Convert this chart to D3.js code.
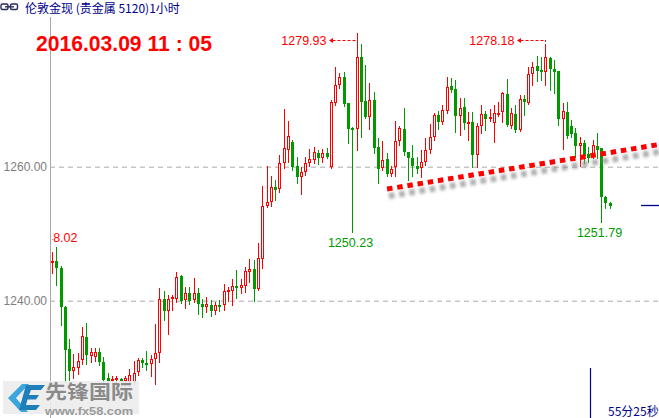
<!DOCTYPE html>
<html><head><meta charset="utf-8">
<script src="https://cdn.jsdelivr.net/npm/d3@7"></script>
<style>html,body{margin:0;padding:0;background:#fff;overflow:hidden}</style>
</head><body>
<svg id="c" width="659" height="418" style="display:block"></svg>
<script>
// ---- data (price, 1-hour candles) ----
const open = [
 1245.63,1245.93,1244.88,1239.06,1232.79,1229.51,1229.96,1231.15,1234.58,1231.79,
 1231.64,1232.34,1230.85,1228.51,1228.16,1228.16,1228.31,1228.01,1227.87,1227.91,
 1229.31,1231.15,1230.75,1230.51,1231.25,1232.15,1240.21,1238.36,1240.25,1240.36,
 1243.69,1240.00,1241.10,1240.10,1241.10,1239.46,1238.96,1239.31,1238.46,1239.31,
 1239.31,1241.40,1241.49,1242.19,1241.85,1242.24,1244.33,1244.69,1241.75,1246.33,
 1254.18,1254.78,1257.01,1256.67,1260.51,1262.60,1263.69,1260.10,1258.51,1259.16,
 1260.51,1261.00,1262.00,1261.25,1262.00,1260.00,1269.55,1272.19,1273.43,1269.55,
 1265.82,1265.63,1276.42,1269.81,1267.37,1269.96,1262.98,1259.76,1261.15,1258.91,
 1260.00,1263.73,1265.58,1262.15,1261.25,1260.15,1259.76,1260.75,1262.39,1264.39,
 1267.72,1266.72,1268.36,1272.04,1271.55,1267.57,1268.87,1266.48,1266.67,1261.75,
 1266.07,1267.87,1267.07,1266.48,1267.87,1268.06,1270.85,1266.07,1267.87,1265.48,
 1270.06,1269.55,1273.84,1275.07,1274.43,1274.09,1276.18,1274.58,1274.28,1267.12,
 1268.21,1266.07,1265.07,1263.09,1263.49,1261.90,1261.40,1263.09,1262.75,1255.43,1254.63];
const high = [
 1247.27,1248.02,1245.18,1239.21,1234.28,1232.04,1232.19,1236.12,1236.67,1232.98,
 1232.98,1232.98,1231.64,1229.21,1228.76,1228.76,1228.46,1228.76,1229.81,1231.00,
 1231.49,1231.40,1232.49,1231.90,1236.48,1241.85,1241.49,1240.85,1240.85,1244.28,
 1243.84,1242.00,1242.00,1243.34,1241.94,1240.21,1240.60,1240.10,1239.85,1240.10,
 1242.49,1242.00,1243.28,1244.58,1243.24,1245.07,1246.18,1246.07,1248.61,1257.16,
 1260.15,1258.61,1258.01,1261.75,1268.57,1266.82,1263.98,1261.49,1260.00,1261.40,
 1262.64,1262.90,1262.49,1262.64,1262.75,1269.96,1274.93,1273.94,1274.18,1269.55,
 1265.93,1279.93,1278.31,1275.18,1272.45,1271.19,1264.24,1263.88,1262.00,1260.10,
 1266.87,1266.07,1268.72,1262.19,1263.24,1261.49,1262.49,1264.24,1266.33,1267.97,
 1268.31,1269.21,1273.43,1273.19,1272.94,1270.21,1270.21,1268.16,1268.21,1266.48,
 1269.21,1268.36,1268.61,1269.21,1269.70,1271.19,1273.04,1268.76,1269.21,1270.70,
 1270.70,1274.84,1275.67,1276.52,1276.33,1278.18,1276.42,1275.93,1274.28,1269.46,
 1269.70,1266.97,1265.73,1264.48,1263.98,1262.98,1263.98,1264.98,1262.75,1255.63,1254.78];
const low = [
 1244.13,1242.34,1236.37,1227.91,1228.16,1228.46,1229.06,1230.55,1230.55,1230.90,
 1231.00,1230.40,1227.87,1227.42,1227.42,1227.27,1226.97,1227.27,1227.27,1227.57,
 1228.91,1230.15,1229.66,1228.81,1227.52,1230.90,1237.12,1234.98,1238.61,1239.85,
 1239.70,1238.87,1239.51,1239.85,1237.97,1237.61,1238.27,1237.76,1237.97,1238.46,
 1238.61,1240.00,1239.36,1240.36,1241.19,1241.34,1242.84,1240.00,1241.60,1244.84,
 1253.99,1254.18,1255.03,1256.18,1259.76,1260.75,1259.51,1257.61,1255.88,1258.76,
 1260.10,1260.55,1260.36,1260.66,1261.30,1259.76,1269.21,1271.75,1269.06,1263.58,
 1250.23,1262.49,1264.48,1267.22,1265.63,1262.04,1257.52,1259.51,1258.61,1258.61,
 1258.66,1263.24,1261.75,1258.01,1258.61,1259.01,1258.51,1260.25,1262.04,1263.98,
 1265.63,1266.37,1268.01,1271.15,1265.22,1264.73,1265.63,1263.98,1260.00,1260.00,
 1264.98,1265.48,1266.82,1263.64,1267.57,1266.72,1266.07,1265.78,1265.18,1265.33,
 1267.72,1269.36,1272.19,1272.84,1272.94,1272.19,1271.45,1271.04,1266.22,1262.60,
 1264.28,1264.43,1261.49,1260.10,1260.60,1260.75,1261.25,1261.30,1251.79,1253.84,1253.88];
const close = [
 1245.93,1244.88,1239.01,1232.64,1229.55,1230.15,1231.00,1234.73,1231.90,1232.34,
 1232.34,1230.90,1228.16,1228.01,1228.31,1228.46,1228.01,1228.46,1228.91,1229.25,
 1231.15,1230.66,1230.51,1231.25,1232.15,1240.21,1238.36,1240.21,1240.60,1243.58,
 1239.96,1241.10,1239.85,1241.10,1239.46,1238.96,1239.46,1238.46,1239.31,1239.10,
 1241.45,1241.64,1242.19,1241.85,1242.34,1244.48,1244.73,1241.75,1246.33,1254.18,
 1254.78,1257.01,1256.52,1260.51,1262.75,1264.63,1259.91,1258.51,1259.25,1260.51,
 1261.15,1262.15,1261.19,1262.00,1261.34,1269.70,1272.19,1273.43,1269.46,1265.63,
 1265.58,1276.33,1269.70,1267.46,1269.96,1262.75,1259.76,1261.00,1258.91,1259.61,
 1263.88,1265.73,1262.09,1261.25,1260.00,1259.76,1260.66,1262.49,1264.39,1267.72,
 1266.72,1268.46,1271.94,1271.45,1267.57,1268.72,1266.48,1266.72,1261.75,1266.07,
 1267.87,1267.07,1267.37,1267.97,1268.06,1270.96,1266.22,1267.97,1265.48,1270.06,
 1269.55,1273.84,1274.93,1274.33,1274.09,1276.33,1274.54,1274.18,1267.07,1268.31,
 1264.63,1264.88,1263.09,1263.49,1261.49,1261.25,1263.24,1262.49,1255.43,1254.54,1254.18];
const yTicks = [1240, 1260];
const titleText = "伦敦金现 (贵金属 5120)1小时";
const stampText = "2016.03.09 11 : 05";
const timerText = "55分25秒";
const hiMarks = [71, 115];      // candles with high-price labels
const loMarks = [70, 128];      // candles with low-price labels
const edgeMark = 1;             // partially hidden label at left edge
const trendIdx = [78.1, 141.5];
const trendPrice = [1256.67, 1263.31];

// ---- drawing ----
const W = 659, H = 418;
const RED = "#ff0000", GREEN = "#009a00", NAVY = "#00008c";
const svg = d3.select("#c");
const idx = d3.range(open.length);
const x = d3.scaleLinear().domain([0, open.length - 1]).range([52, 609.7]);
const y = d3.scaleLinear().domain([1240, 1260]).range([300.7, 166.7]);

const defs = svg.append("defs");
defs.append("clipPath").attr("id", "plot").append("rect")
  .attr("x", 50.5).attr("y", 17).attr("width", W - 50.5).attr("height", H - 17);
defs.append("clipPath").attr("id", "edge").append("rect")
  .attr("x", 52.3).attr("y", 17).attr("width", W - 52.3).attr("height", H - 17);
defs.append("filter").attr("id", "blur").attr("x", "-10%").attr("y", "-50%").attr("width", "120%").attr("height", "200%")
  .append("feGaussianBlur").attr("stdDeviation", 1.6);

// y axis + dashed grid
const axis = d3.axisLeft(y).tickValues(yTicks).tickFormat(d3.format(".2f"))
  .tickSizeInner(-(W - 50)).tickSizeOuter(0).tickPadding(3);
const ga = svg.append("g").attr("transform", "translate(50,0)").call(axis);
ga.select(".domain").remove();
ga.selectAll(".tick line").attr("stroke", "#ababab").attr("stroke-dasharray", "5,4");
ga.selectAll(".tick text").attr("fill", "#7d7d7d")
  .style("font-family", '"Liberation Sans",Arial,sans-serif').style("font-size", "12px");

svg.append("line").attr("x1", 50.5).attr("x2", 50.5).attr("y1", 17).attr("y2", H)
  .attr("stroke", "#a8a8a8");

// candles
const plot = svg.append("g").attr("clip-path", "url(#plot)");
const cx = i => Math.round(x(i));
const up = i => close[i] >= open[i];
const cg = plot.selectAll("g.c").data(idx).join("g").attr("class", "c");
cg.append("line")
  .attr("x1", i => cx(i) + 0.5).attr("x2", i => cx(i) + 0.5)
  .attr("y1", i => Math.round(y(high[i]))).attr("y2", i => Math.round(y(low[i])) + 1)
  .attr("stroke", i => up(i) ? RED : GREEN).attr("stroke-width", 1);
cg.append("rect")
  .attr("x", i => up(i) ? cx(i) - 0.5 : cx(i) - 1)
  .attr("width", i => up(i) ? 2 : 3)
  .attr("y", i => {
    const t = Math.round(y(Math.max(open[i], close[i])));
    return up(i) ? t + 0.5 : t;
  })
  .attr("height", i => {
    const h = Math.max(1, Math.round(Math.abs(y(open[i]) - y(close[i]))));
    return up(i) ? Math.max(1, h - 1) : Math.max(2, h);
  })
  .attr("fill", i => up(i) ? "#fff" : GREEN)
  .attr("stroke", i => up(i) ? RED : "none").attr("stroke-width", 1);

// trend line with shadow
const tr = trendIdx.map((d, k) => ({i: d, p: trendPrice[k]}));
const ln = d3.line().x(d => x(d.i)).y(d => y(d.p));
svg.append("path").attr("d", ln(tr)).attr("transform", "translate(2,7)")
  .attr("fill", "none").attr("stroke", "#8f8f8f").attr("stroke-width", 6)
  .attr("stroke-dasharray", "5.5,4.8").attr("opacity", 0.75).attr("filter", "url(#blur)");
svg.append("path").attr("d", ln(tr))
  .attr("fill", "none").attr("stroke", RED).attr("stroke-width", 5)
  .attr("stroke-dasharray", "5.5,4.8");

// high labels
const F = '"Liberation Sans",Arial,sans-serif';
const labY = 40;
hiMarks.forEach(i => {
  const c = cx(i) + 0.5;
  const g = svg.append("g");
  g.append("line").attr("x1", c - 25).attr("x2", c).attr("y1", labY + 0.5).attr("y2", labY + 0.5)
    .attr("stroke", RED).attr("stroke-dasharray", "3,2");
  if (y(high[i]) > labY) g.append("line").attr("x1", c).attr("x2", c)
    .attr("y1", labY).attr("y2", y(high[i])).attr("stroke", RED).attr("stroke-dasharray", "2,2");
  g.append("path").attr("d", `M${c - 28.5},${labY + 0.5} L${c - 24.5},${labY - 2} L${c - 24.5},${labY + 3} Z`)
    .attr("fill", RED);
  g.append("text").attr("x", c - 31).attr("y", labY + 4.5).attr("text-anchor", "end")
    .attr("fill", RED).style("font-family", F).style("font-size", "12.5px")
    .text(d3.format(".2f")(high[i]));
});
// low labels
loMarks.forEach(i => {
  svg.append("text").attr("x", cx(i) - 1.5).attr("y", y(low[i]) + 15).attr("text-anchor", "middle")
    .attr("fill", GREEN).style("font-family", F).style("font-size", "12.5px")
    .text(d3.format(".2f")(low[i]));
});
// edge label (clipped by the axis)
svg.append("g").attr("clip-path", "url(#edge)").append("text")
  .attr("x", cx(edgeMark) + 21.5).attr("y", y(high[edgeMark]) - 4.5).attr("text-anchor", "end")
  .attr("fill", RED).style("font-family", F).style("font-size", "12.5px")
  .text(d3.format(".2f")(high[edgeMark]));

// current price marker
const last = close[close.length - 1];
svg.append("line").attr("x1", 641).attr("x2", W).attr("y1", Math.round(y(last)) - 0.5).attr("y2", Math.round(y(last)) - 0.5)
  .attr("stroke", NAVY).attr("stroke-width", 1.3);

// title row
const ic = svg.append("g").attr("fill", "none").attr("stroke", "#2a2a5a").attr("stroke-width", 1.4);
ic.append("rect").attr("x", 1).attr("y", 4).attr("width", 7).attr("height", 5.5).attr("rx", 1.5);
ic.append("rect").attr("x", 10.5).attr("y", 4).attr("width", 7).attr("height", 5.5).attr("rx", 1.5);
ic.append("line").attr("x1", 5).attr("x2", 14).attr("y1", 6.8).attr("y2", 6.8);
svg.append("text").attr("x", 25).attr("y", 13).attr("fill", NAVY)
  .style("font-family", '"Noto Sans CJK SC",sans-serif').style("font-size", "12px").text(titleText);

svg.append("text").attr("x", 36).attr("y", 50.5).attr("fill", RED)
  .attr("textLength", 176).attr("lengthAdjust", "spacingAndGlyphs")
  .style("font-family", F).style("font-weight", "bold").style("font-size", "22px").text(stampText);

// bottom right timer
svg.append("line").attr("x1", 590.5).attr("x2", 590.5).attr("y1", 368).attr("y2", H)
  .attr("stroke", NAVY).attr("stroke-width", 1.2);
svg.append("text").attr("x", 608).attr("y", 415.5).attr("fill", NAVY)
  .style("font-family", '"Noto Sans CJK SC",sans-serif').style("font-size", "12px").text(timerText);

// watermark logo
const lg = svg.append("g");
lg.append("rect").attr("x", 3).attr("y", 381).attr("width", 136).attr("height", 33)
  .attr("fill", "#ececec").attr("opacity", 0.9);
lg.append("path").attr("d", "M22,384 L8,398 L21,412 L28,412 L16,398 L29,384 Z").attr("fill", "#3ba6dc");
lg.append("path").attr("d", "M26,385 L45,385 L41,390 L31,390 L29,395 L39,395 L36,399.5 L27.5,399.5 L26,405 L40,405 L36,410 L19,410 Z")
  .attr("fill", "#1e7fb9");
lg.append("text").attr("x", 45).attr("y", 398.5).attr("fill", "#8a8a8a")
  .attr("textLength", 88).attr("lengthAdjust", "spacingAndGlyphs")
  .style("font-family", '"Noto Sans CJK SC",sans-serif').style("font-weight", "bold").style("font-size", "19px").text("先锋国际");
lg.append("text").attr("x", 45).attr("y", 414.5).attr("fill", "#9a9a9a")
  .attr("textLength", 88).attr("lengthAdjust", "spacingAndGlyphs")
  .style("font-family", F).style("font-weight", "bold").style("font-size", "10.5px").text("www.fx58.com");
</script>
</body></html>
